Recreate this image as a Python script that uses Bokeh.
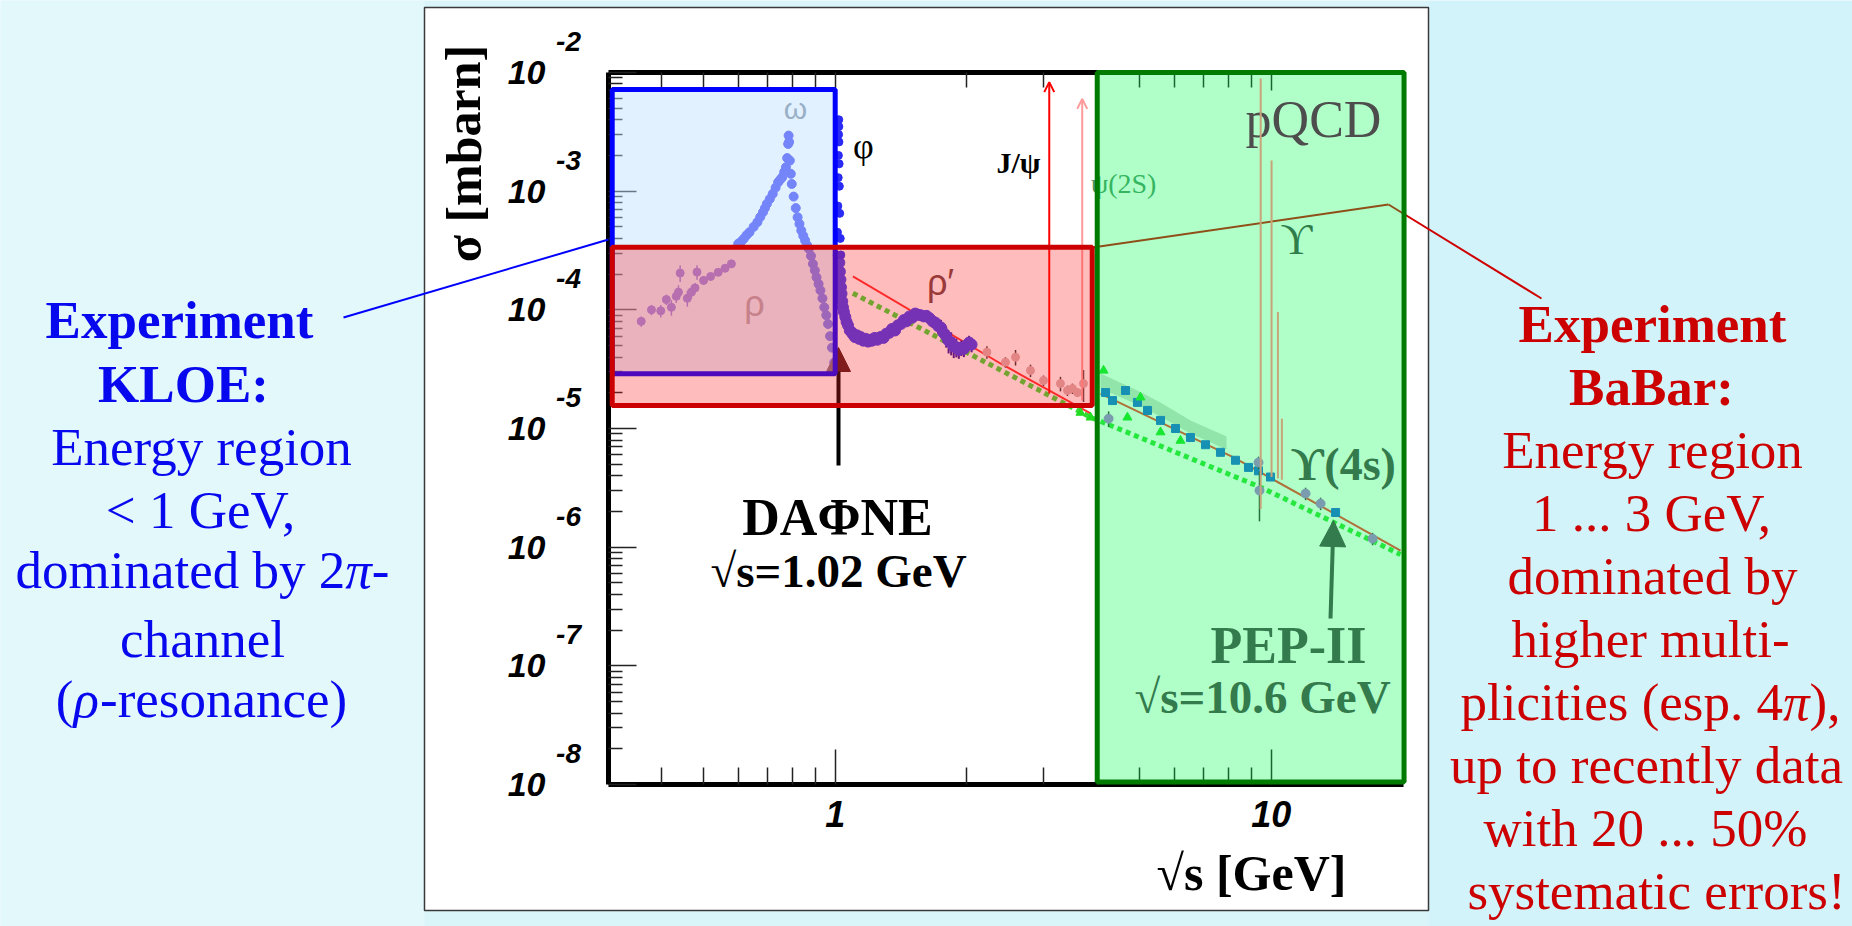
from bokeh.plotting import figure
from bokeh.models import (FixedTicker, LogAxis, CustomJSTickFormatter, BoxAnnotation,
                          Label, Arrow, OpenHead, NormalHead)
from bokeh.embed import file_html
from bokeh.resources import INLINE

# ---------------- data: sqrt(s) [GeV], sigma [mbarn] ----------------
rho_x = [0.359, 0.379, 0.398, 0.410, 0.421, 0.432, 0.437, 0.441, 0.458, 0.468, 0.477,
         0.482, 0.499, 0.518, 0.539, 0.559, 0.578]
rho_y = [8.0e-5, 1.0e-4, 9.8e-5, 1.22e-4, 1.05e-4, 1.30e-4, 1.41e-4, 2.04e-4, 1.25e-4,
         1.41e-4, 1.53e-4, 2.08e-4, 1.77e-4, 1.91e-4, 2.07e-4, 2.24e-4, 2.44e-4]
rho_err = [0.10, 0.10, 0.12, 0.10, 0.15, 0.12, 0.14, 0.16, 0.15, 0.12, 0.10, 0.14,
           0.08, 0.07, 0.06, 0.06, 0.05]

omega_x = [0.599, 0.608, 0.617, 0.626, 0.636, 0.650, 0.663, 0.673, 0.683, 0.690, 0.697,
           0.708, 0.719, 0.730, 0.740, 0.748, 0.756, 0.764, 0.771, 0.776, 0.780, 0.782,
           0.784, 0.787, 0.791, 0.795, 0.803, 0.812, 0.820, 0.828, 0.836, 0.845, 0.853,
           0.862, 0.870, 0.880, 0.889, 0.898, 0.906, 0.916, 0.925, 0.935, 0.944, 0.954,
           0.963, 0.973, 0.983, 0.995]
omega_y = [3.60e-4, 3.75e-4, 3.97e-4, 4.25e-4, 4.51e-4, 5.0e-4, 5.48e-4, 6.05e-4, 6.65e-4,
           7.2e-4, 7.82e-4, 8.6e-4, 9.5e-4, 1.07e-3, 1.19e-3, 1.25e-3, 1.31e-3, 1.45e-3,
           1.59e-3, 1.9e-3, 2.5e-3, 2.94e-3, 2.6e-3, 1.81e-3, 1.4e-3, 1.15e-3, 9.0e-4,
           7.2e-4, 6.03e-4, 5.3e-4, 4.66e-4, 4.2e-4, 3.84e-4, 3.5e-4, 3.27e-4, 2.85e-4,
           2.44e-4, 2.15e-4, 1.88e-4, 1.65e-4, 1.46e-4, 1.25e-4, 1.05e-4, 9.0e-5, 7.6e-5,
           6.0e-5, 4.8e-5, 3.6e-5]

phi_x = [1.010, 1.012, 1.014, 1.016, 1.017, 1.018, 1.019, 1.0195, 1.020, 1.021, 1.022,
         1.024, 1.027, 1.030]
phi_y = [2.9e-4, 4.5e-4, 7.5e-4, 1.3e-3, 2.0e-3, 3.0e-3, 4.0e-3, 3.5e-3, 2.6e-3, 1.7e-3,
         1.1e-3, 6.5e-4, 4.0e-4, 2.9e-4]

multi_x = [1.022, 1.025, 1.028, 1.031, 1.034, 1.038, 1.042, 1.047, 1.055, 1.062, 1.070,
           1.080, 1.090, 1.098, 1.110, 1.122, 1.134, 1.144, 1.160, 1.175, 1.190, 1.205,
           1.215, 1.232, 1.250, 1.270, 1.291, 1.310, 1.330, 1.350, 1.372, 1.392, 1.415,
           1.437, 1.457, 1.480, 1.503, 1.526, 1.548, 1.572, 1.597, 1.620, 1.646, 1.672,
           1.698, 1.722, 1.748, 1.772, 1.797, 1.820, 1.845, 1.870, 1.896, 1.921, 1.947,
           1.973, 2.000, 2.028, 2.055]
multi_y = [2.5e-4, 2.1e-4, 1.8e-4, 1.55e-4, 1.37e-4, 1.18e-4, 1.05e-4, 9.6e-5, 8.7e-5,
           7.9e-5, 7.4e-5, 6.7e-5, 6.5e-5, 6.2e-5, 5.9e-5, 6.1e-5, 5.7e-5, 5.9e-5, 5.5e-5,
           5.7e-5, 5.4e-5, 5.6e-5, 5.5e-5, 5.8e-5, 5.6e-5, 5.9e-5, 5.8e-5, 6.3e-5, 6.4e-5,
           6.9e-5, 6.7e-5, 7.4e-5, 7.6e-5, 8.2e-5, 8.0e-5, 8.8e-5, 8.6e-5, 9.3e-5, 9.1e-5,
           9.0e-5, 8.8e-5, 8.9e-5, 8.5e-5, 8.0e-5, 7.8e-5, 7.3e-5, 7.1e-5, 6.4e-5, 6.0e-5,
           5.5e-5, 5.3e-5, 4.9e-5, 4.85e-5, 4.6e-5, 4.8e-5, 4.7e-5, 5.0e-5, 5.3e-5, 5.1e-5]
multi_err = [0.05, 0.05, 0.05, 0.05, 0.05, 0.06, 0.06, 0.06, 0.07, 0.07, 0.08, 0.08, 0.08,
             0.08, 0.09, 0.09, 0.09, 0.10, 0.10, 0.10, 0.10, 0.10, 0.10, 0.10, 0.09, 0.09,
             0.09, 0.08, 0.08, 0.08, 0.08, 0.08, 0.08, 0.08, 0.08, 0.08, 0.08, 0.08, 0.08,
             0.09, 0.09, 0.10, 0.10, 0.12, 0.12, 0.14, 0.16, 0.18, 0.20, 0.22, 0.22, 0.20,
             0.18, 0.16, 0.15, 0.15, 0.14, 0.14, 0.14]

mid_x = [2.228, 2.458, 2.592, 2.805, 3.005, 3.286, 3.410, 3.501, 3.595, 3.711]
mid_y = [4.40e-5, 3.62e-5, 3.99e-5, 3.08e-5, 2.54e-5, 2.39e-5, 2.09e-5, 2.17e-5, 2.01e-5, 2.39e-5]
mid_err = [0.12, 0.10, 0.15, 0.12, 0.10, 0.14, 0.10, 0.10, 0.08, 0.30]

qpm_x = [1.098, 2.619, 3.852, 9.452, 19.8]
qpm_y = [1.38e-4, 2.62e-5, 1.245e-5, 3.20e-6, 8.68e-7]

pqcd_lo_x = [1.098, 2.394, 3.852]
pqcd_lo_y = [1.91e-4, 3.53e-5, 1.34e-5]
pqcd_hi_x = [4.059, 8.196, 9.452, 19.8]
pqcd_hi_y = [1.97e-5, 5.70e-6, 4.26e-6, 9.37e-7]

band_x = [4.06, 4.93, 5.57, 6.53, 7.90]
band_lo = [2.17e-5, 1.59e-5, 1.26e-5, 9.08e-6, 6.65e-6]
band_hi = [2.91e-5, 2.09e-5, 1.66e-5, 1.17e-5, 8.56e-6]

high_blue_x = [4.169, 4.325, 4.633, 4.935, 5.204, 5.574, 6.033, 6.529, 7.068, 7.650,
               8.282, 8.870, 9.352, 9.963, 14.05]
high_blue_y = [2.01e-5, 1.72e-5, 2.09e-5, 1.66e-5, 1.42e-5, 1.17e-5, 1.00e-5, 8.4e-6,
               7.3e-6, 6.3e-6, 5.4e-6, 4.7e-6, 4.4e-6, 3.9e-6, 1.96e-6]
high_purple_x = [4.237, 9.352, 9.40, 11.99, 12.98, 17.08]
high_purple_y = [1.21e-5, 5.17e-6, 3.0e-6, 2.83e-6, 2.33e-6, 1.18e-6]
high_purple_err = [0.15, 0.12, 0.45, 0.12, 0.12, 0.12]
high_green_x = [3.652, 3.852, 4.125, 4.68, 5.014, 5.574, 6.194]
high_green_y = [1.36e-5, 1.24e-5, 3.08e-5, 1.24e-5, 1.83e-5, 9.3e-6, 7.9e-6]

psi_x = [3.097, 3.686]
psi_top = [8.3e-3, 6.0e-3]
psi_bottom = [1.97e-5, 1.72e-5]

ups_x = [9.46, 10.02, 10.36, 10.58]
ups_top = [8.9e-3, 1.81e-3, 9.6e-5, 1.21e-5]
ups_bottom = [2.1e-6, 3.9e-6, 3.8e-6, 3.7e-6]

# energy regions highlighted on the slide
kloe_box = dict(left=0.308, right=1.0, bottom=2.89e-5, top=7.19e-3)
babar_box = dict(left=0.308, right=3.886, bottom=1.563e-5, top=3.37e-4)
pqcd_box = dict(left=3.99, right=20.17, bottom=1.05e-8, top=1.0e-2)

x_major = [1, 10]
x_minor = [0.4, 0.5, 0.6, 0.7, 0.8, 0.9, 2, 3, 4, 5, 6, 7, 8, 9]
y_exponents = [-8, -7, -6, -5, -4, -3, -2]

# ---------------- layout ----------------
W, H = 1852, 926
FL, FR, FT, FB = 608, 1403, 72, 784          # chart area in page pixels
X_AT_ONE, PX_PER_DEC_X = 834.7, 436.0
PX_PER_DEC_Y = (FB - FT) / 6.0
X_START = 10 ** ((FL - X_AT_ONE) / PX_PER_DEC_X)
X_END = 10 ** ((FR - X_AT_ONE) / PX_PER_DEC_X)
# the plotting frame covers the whole page; the chart axes are pinned inside it
PAGE_X = (10 ** ((0 - X_AT_ONE) / PX_PER_DEC_X), 10 ** ((W - X_AT_ONE) / PX_PER_DEC_X))
PAGE_Y = (10 ** (-2 - (H - FT) / PX_PER_DEC_Y), 10 ** (-2 + FT / PX_PER_DEC_Y))
SERIF = "Liberation Serif"
SANS = "Liberation Sans"


def sx(cx):
    return cx


def sy(cy):
    return H - cy


p = figure(width=W, height=H, x_axis_type="log", y_axis_type="log",
           x_range=PAGE_X, y_range=PAGE_Y,
           output_backend="svg", toolbar_location=None,
           min_border=0, min_border_left=0, min_border_right=0,
           min_border_top=0, min_border_bottom=0)
p.border_fill_color = "#daf5fa"
p.background_fill_color = "#daf5fa"
p.outline_line_color = None
p.xgrid.visible = False
p.ygrid.visible = False


def screen_box(l, r, t, b, **kw):
    p.add_layout(BoxAnnotation(left=sx(l), right=sx(r), top=sy(t), bottom=sy(b),
                               left_units="screen", right_units="screen",
                               top_units="screen", bottom_units="screen", **kw))


# page background shades and white slide panel
screen_box(0, 424, 0, 926, fill_color="#e3f8fb", fill_alpha=1, line_color=None, level="underlay")
screen_box(1428, 1852, 0, 926, fill_color="#d1f3f9", fill_alpha=1, line_color=None, level="underlay")
screen_box(424, 1428, 7, 910, fill_color="white", fill_alpha=1, line_color="#3a3a3a",
           line_alpha=1, line_width=1.5, level="underlay")

# ---------------- axes ----------------
xt = FixedTicker(ticks=x_major, minor_ticks=x_minor)
yt = FixedTicker(ticks=[10.0 ** e for e in y_exponents],
                 minor_ticks=[k * 10.0 ** e for e in y_exponents[:-1] for k in range(2, 10)])

ax = p.xaxis[0]
ax.ticker = xt
ax.formatter = CustomJSTickFormatter(code="return String(tick)")
ax.fixed_location = 1e-8
ax.bounds = (X_START, X_END)
ay = p.yaxis[0]
ay.ticker = yt
ay.formatter = CustomJSTickFormatter(code="return '10'")
ay.fixed_location = X_START
ay.bounds = (1e-8, 1e-2)
top = LogAxis(ticker=xt, formatter=CustomJSTickFormatter(code="return ''"),
              fixed_location=1e-2, bounds=(X_START, X_END))
p.add_layout(top, "above")

for a, maj, mnr in ((ax, 35, 17), (ay, 28, 14), (top, 18, 15)):
    a.axis_line_width = 5
    a.axis_line_color = "black"
    a.major_tick_in = maj
    a.major_tick_out = 0
    a.minor_tick_in = mnr
    a.minor_tick_out = 0
    a.major_tick_line_width = 1.5
    a.minor_tick_line_width = 1.5
    a.major_tick_line_color = "#222222"
    a.minor_tick_line_color = "#222222"
    a.major_label_text_font = SANS
    a.major_label_text_font_style = "bold italic"
    a.major_label_text_color = "black"
ax.major_label_text_font_size = "36px"
ax.major_label_standoff = 16
ay.major_label_text_font_size = "34px"
ay.major_label_standoff = 63

for e in y_exponents:
    p.add_layout(Label(x=sx(568), y=10.0 ** e, x_units="screen", y_units="data",
                       y_offset=31, text=str(e), text_font=SANS, text_font_size="28px",
                       text_font_style="bold italic", text_align="center",
                       text_baseline="middle", text_color="black"))


# ---------------- data ----------------
def errbars(xs, ys, rel, color, width=1.5):
    p.segment(x0=xs, y0=[y * (1 - r) for y, r in zip(ys, rel)],
              x1=xs, y1=[y * (1 + r) for y, r in zip(ys, rel)],
              line_color=color, line_width=width)


p.varea(x=band_x, y1=band_lo, y2=band_hi, fill_color="#d2d8d2")
p.line(qpm_x, qpm_y, line_color="#36dd36", line_width=5, line_dash="5 4")
p.line(pqcd_lo_x, pqcd_lo_y, line_color="#ff3030", line_width=2)
p.line(pqcd_hi_x, pqcd_hi_y, line_color="#ff3030", line_width=2)

errbars(rho_x, rho_y, rho_err, "#7a50e0")
p.scatter(rho_x, rho_y, size=8, color="#7a50e0")
p.scatter(omega_x, omega_y, size=9, color="#3a3af5")
errbars(multi_x, multi_y, multi_err, "#2a10a0", 2)
p.scatter(multi_x, multi_y, size=11, color="#3a3af5")
p.scatter(phi_x, phi_y, size=8, color="#2a2af5")

errbars(mid_x, mid_y, mid_err, "#333333")
p.scatter(mid_x, mid_y, size=8, color="#d8b0b0")

p.scatter(high_blue_x, high_blue_y, size=8, marker="square", color="#2060e0")
errbars(high_purple_x, high_purple_y, high_purple_err, "#333333")
p.scatter(high_purple_x, high_purple_y, size=9, color="#b070d8")
p.scatter(high_green_x, high_green_y, size=9, marker="triangle", color="#22dd22")

p.segment(x0=ups_x, y0=ups_bottom, x1=ups_x, y1=ups_top, line_color="#c8a47a",
          line_width=2, level="overlay")

# J/psi and psi(2S) narrow resonances
for xv, y0, y1, col in zip(psi_x, psi_bottom, psi_top, ["#ff0000", "#ff9a9a"]):
    p.add_layout(Arrow(end=OpenHead(line_color=col, line_width=2, size=10),
                       x_start=xv, y_start=y0, x_end=xv, y_end=y1,
                       line_color=col, line_width=2))


# ---------------- helpers for slide annotations ----------------
def label(text, cx, base, size, color="black", font=SERIF, style="normal",
          align="center", angle=0.0, level="annotation", middle=False):
    # base: text baseline in page pixels (or the text centre when middle=True)
    cy = base if middle else base - 0.34 * size
    p.add_layout(Label(x=sx(cx), y=sy(cy), x_units="screen", y_units="screen", text=text,
                       text_font=font, text_font_size=f"{size}px", text_font_style=style,
                       text_color=color, text_align=align, text_baseline="middle",
                       angle=angle, level=level))


def label_runs(runs, cx, base, size, color):
    # runs: (text, style, advance width in em/1000 of the serif font)
    total = sum(r[2] for r in runs) * size / 1000.0
    x = cx - total / 2.0
    for text, style, adv in runs:
        label(text, x, base, size, color, style=style, align="left")
        x += adv * size / 1000.0


def seg(x0, y0, x1, y1, color, width, end=None, level="annotation"):
    p.add_layout(Arrow(end=end, x_start=sx(x0), y_start=sy(y0), x_end=sx(x1), y_end=sy(y1),
                       start_units="screen", end_units="screen", line_color=color,
                       line_width=width, level=level))


# DAPHNE arrow (under the coloured boxes)
seg(838, 465, 838, 347, "black", 4,
    end=NormalHead(size=24, fill_color="#4a1a1a", line_color="#4a1a1a"), level="glyph")
# BaBar connector (passes under the green box)
seg(1092, 247, 1388, 204, "#d00000", 2, level="glyph")
seg(1388, 204, 1541, 298, "#d00000", 2, level="glyph")

# in-plot particle labels
label("ω", 795, 108, 30, color="#7a8898", font=SANS, middle=True)
label("φ", 863, 145, 36, font=SERIF, middle=True)
label("ρ", 754, 303, 36, color="#a58080", font=SANS, middle=True)
label("ρ′", 940, 282, 36, color="#6e4444", font=SANS, middle=True)
label("J/ψ", 1018, 172, 30, style="bold")
label("ψ(2S)", 1123, 193, 28, color="#4f9468")

# region boxes
p.add_layout(BoxAnnotation(**kloe_box, fill_color="#bde1ff", fill_alpha=0.45,
                           line_color="#0000ff", line_alpha=1, line_width=5))
p.add_layout(BoxAnnotation(**babar_box, fill_color="#ff2020", fill_alpha=0.30,
                           line_color="#cc0000", line_alpha=1, line_width=5))
p.add_layout(BoxAnnotation(**pqcd_box, fill_color="#00ff50", fill_alpha=0.31,
                           line_color="#007a00", line_alpha=1, line_width=5))

# labels on top
label("pQCD", 1313, 137, 52, color="#4d4d4d")
label("ϒ", 1296, 254, 44, color="#2e7d4a")
label("ϒ(4s)", 1343, 480, 46, color="#337a4c", style="bold")
label("PEP-II", 1288, 663, 52, color="#337a4c", style="bold")
label("√s=10.6 GeV", 1262, 712, 47, color="#337a4c", style="bold")
seg(1330, 618, 1333, 520, "#337a4c", 4,
    end=NormalHead(size=26, fill_color="#337a4c", line_color="#337a4c"))
label("DAΦNE", 837, 535, 52, style="bold")
label("√s=1.02 GeV", 838, 586, 47, style="bold")

label("σ [mbarn]", 463, 153, 50, style="bold", angle=1.5708, middle=True)
label("√s [GeV]", 1251, 889, 50, style="bold")

# KLOE side text
seg(343, 317, 608, 239, "#0000ff", 2)
KLOE = "#0808ee"
label("Experiment", 179, 338, 53, KLOE, style="bold")
label("KLOE:", 183, 402, 53, KLOE, style="bold")
label("Energy region", 201, 465, 53, KLOE)
label("< 1 GeV,", 200, 528, 53, KLOE)
label_runs([("dominated by 2", "normal", 6222), ("π", "italic", 500), ("-", "normal", 333)],
           202, 588, 53, KLOE)
label("channel", 202, 657, 53, KLOE)
label_runs([("(", "normal", 333), ("ρ", "italic", 500), ("-resonance)", "normal", 4664)],
           201, 717, 53, KLOE)

# BaBar side text
BABAR = "#cc0000"
label("Experiment", 1652, 342, 53, BABAR, style="bold")
label("BaBar:", 1651, 405, 53, BABAR, style="bold")
label("Energy region", 1652, 468, 53, BABAR)
label("1 ... 3 GeV,", 1651, 531, 53, BABAR)
label("dominated by", 1652, 594, 53, BABAR)
label("higher multi-", 1650, 657, 53, BABAR)
label_runs([("plicities (esp. 4", "normal", 6083), ("π", "italic", 500), ("),", "normal", 583)],
           1650, 720, 53, BABAR)
label("up to recently data", 1646, 783, 53, BABAR)
label("with 20 ... 50%", 1645, 846, 53, BABAR)
label("systematic errors!", 1656, 909, 53, BABAR)

open("out.html", "w").write(file_html(p, INLINE))
